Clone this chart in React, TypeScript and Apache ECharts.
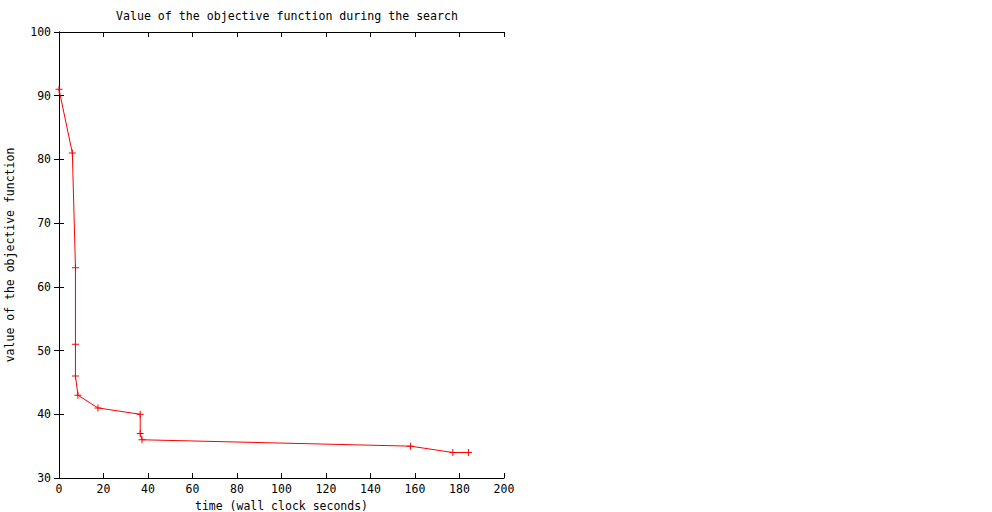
import React, { useEffect, useRef } from "react";
import * as echarts from "echarts";

const titleText = "Value of the objective function during the search";
const xName = "time (wall clock seconds)";
const yName = "value of the objective function";
const timeValues = [0, 6, 7.4, 7.4, 7.4, 8.5, 17.5, 36.5, 36.5, 37.3, 158, 177, 184];
const objectiveValues = [91, 81, 63, 51, 46, 43, 41, 40, 37, 36, 35, 34, 34];

const FONT = "'DejaVu Sans Mono', monospace";

export default function App() {
  const ref = useRef<HTMLDivElement>(null);
  useEffect(() => {
    if (!ref.current) return;
    const chart = echarts.init(ref.current, undefined, { renderer: "svg", width: 992, height: 512 });
    const data = timeValues.map((t, i) => [t, objectiveValues[i]]);
    const axisLine = { show: true, lineStyle: { color: "#000", width: 1 } };
    const tick = { show: true, inside: true, length: 5, lineStyle: { color: "#000", width: 1 } };
    const labelStyle = { color: "#000", fontFamily: FONT, fontSize: 11.5 };
    chart.setOption({
      animation: false,
      backgroundColor: "#fff",
      title: {
        text: titleText,
        left: 282,
        top: 5,
        textAlign: "center",
        textStyle: { color: "#000", fontFamily: FONT, fontSize: 11.6, fontWeight: "normal" },
      },
      grid: {
        left: 59,
        width: 445,
        top: 32,
        height: 446,
        containLabel: false,
        outerBoundsMode: "none",
      },
      xAxis: [
        {
          type: "value",
          position: "bottom",
          min: 0,
          max: 200,
          interval: 20,
          name: xName,
          nameLocation: "middle",
          nameGap: 22,
          nameTextStyle: labelStyle,
          axisLine,
          axisTick: tick,
          axisLabel: { ...labelStyle, margin: 5 },
          splitLine: { show: false },
        },
        {
          type: "value",
          position: "top",
          min: 0,
          max: 200,
          interval: 20,
          axisLine,
          axisTick: tick,
          axisLabel: { show: false },
          splitLine: { show: false },
        },
      ],
      yAxis: [
        {
          type: "value",
          position: "left",
          min: 30,
          max: 100,
          interval: 10,
          name: yName,
          nameLocation: "middle",
          nameGap: 43,
          nameTextStyle: labelStyle,
          axisLine,
          axisTick: tick,
          axisLabel: { ...labelStyle, margin: 8 },
          splitLine: { show: false },
        },
        {
          type: "value",
          position: "right",
          min: 30,
          max: 100,
          interval: 10,
          axisLine,
          axisTick: tick,
          axisLabel: { show: false },
          splitLine: { show: false },
        },
      ],
      series: [
        {
          type: "line",
          data,
          xAxisIndex: 0,
          yAxisIndex: 0,
          lineStyle: { color: "#ff0000", width: 1 },
          itemStyle: { color: "#ff0000" },
          symbol: "path://M3,0H4V3H7V4H4V7H3V4H0V3H3Z",
          symbolSize: 7,
          showSymbol: true,
          clip: false,
        },
      ],
    });
    return () => chart.dispose();
  }, []);
  return (
    <div
      ref={ref}
      style={{ position: "fixed", left: 0, top: 0, width: 992, height: 512, background: "#fff" }}
    />
  );
}
